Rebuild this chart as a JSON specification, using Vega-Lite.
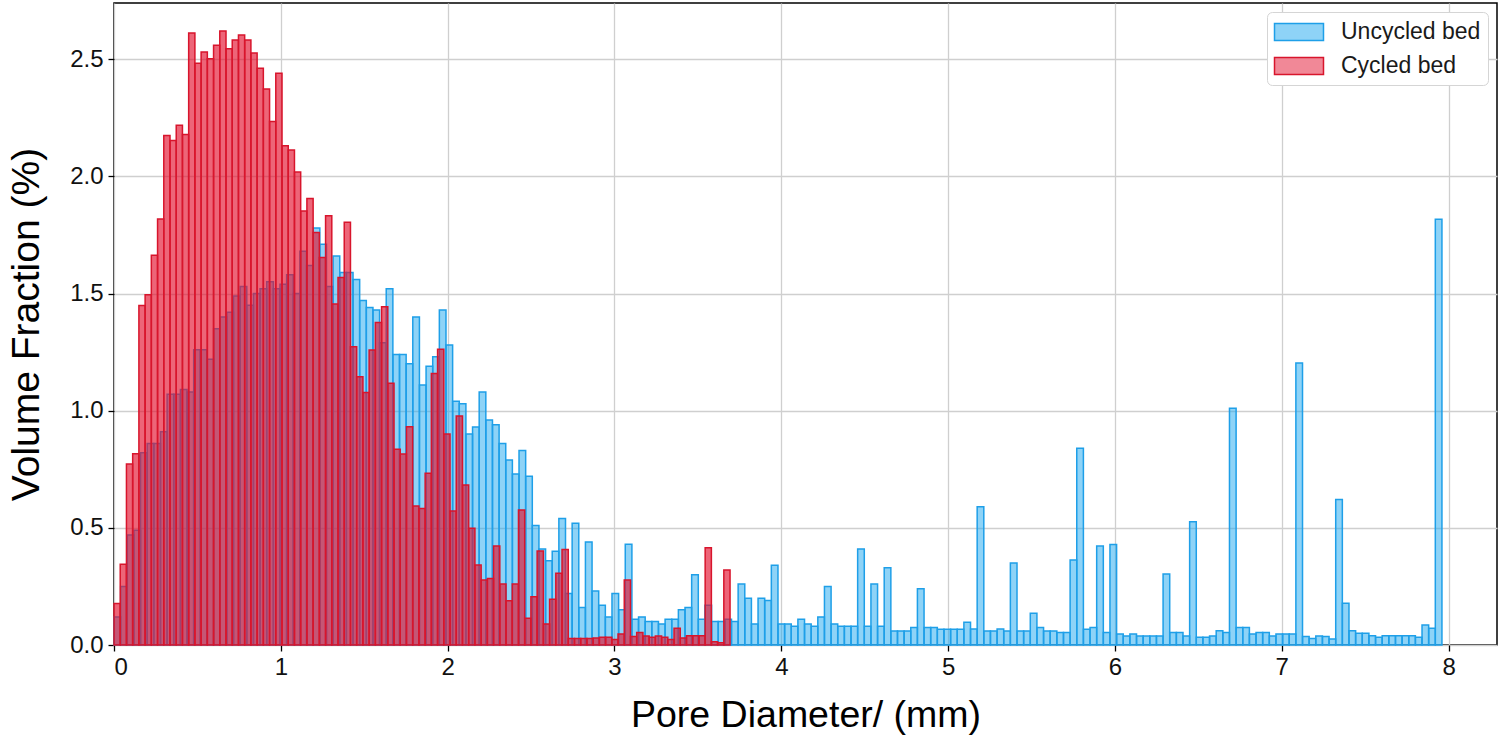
{
  "$schema": "https://vega.github.io/schema/vega-lite/v6.json",
  "width": 1383,
  "height": 642,
  "autosize": {"type": "none"},
  "padding": {"left": 114, "top": 3, "right": 4, "bottom": 91},
  "background": "white",
  "config": {
    "font": "Liberation Sans",
    "view": {"stroke": "#000000", "strokeWidth": 1.5},
    "axis": {
      "grid": true, "gridColor": "#cfcfcf", "gridWidth": 1.3, "domain": false,
      "tickColor": "#000000", "tickSize": 6, "tickWidth": 1.3,
      "labelFont": "Liberation Sans", "labelFontSize": 24, "labelColor": "#111111",
      "titleFont": "Liberation Sans", "titleFontWeight": "normal", "titleColor": "#000000"
    }
  },
  "datasets": {
    "unc": [
      {"s":"Uncycled bed","x0":0.0000,"x1":0.0398,"v":0.12},
      {"s":"Uncycled bed","x0":0.0398,"x1":0.0796,"v":0.25},
      {"s":"Uncycled bed","x0":0.0796,"x1":0.1194,"v":0.47},
      {"s":"Uncycled bed","x0":0.1194,"x1":0.1592,"v":0.49},
      {"s":"Uncycled bed","x0":0.1592,"x1":0.1990,"v":0.82},
      {"s":"Uncycled bed","x0":0.1990,"x1":0.2388,"v":0.86},
      {"s":"Uncycled bed","x0":0.2388,"x1":0.2786,"v":0.86},
      {"s":"Uncycled bed","x0":0.2786,"x1":0.3184,"v":0.91},
      {"s":"Uncycled bed","x0":0.3184,"x1":0.3582,"v":1.07},
      {"s":"Uncycled bed","x0":0.3582,"x1":0.3980,"v":1.07},
      {"s":"Uncycled bed","x0":0.3980,"x1":0.4378,"v":1.09},
      {"s":"Uncycled bed","x0":0.4378,"x1":0.4776,"v":1.08},
      {"s":"Uncycled bed","x0":0.4776,"x1":0.5174,"v":1.26},
      {"s":"Uncycled bed","x0":0.5174,"x1":0.5572,"v":1.26},
      {"s":"Uncycled bed","x0":0.5572,"x1":0.5970,"v":1.22},
      {"s":"Uncycled bed","x0":0.5970,"x1":0.6368,"v":1.35},
      {"s":"Uncycled bed","x0":0.6368,"x1":0.6766,"v":1.40},
      {"s":"Uncycled bed","x0":0.6766,"x1":0.7164,"v":1.42},
      {"s":"Uncycled bed","x0":0.7164,"x1":0.7562,"v":1.49},
      {"s":"Uncycled bed","x0":0.7562,"x1":0.7960,"v":1.53},
      {"s":"Uncycled bed","x0":0.7960,"x1":0.8358,"v":1.45},
      {"s":"Uncycled bed","x0":0.8358,"x1":0.8756,"v":1.50},
      {"s":"Uncycled bed","x0":0.8756,"x1":0.9154,"v":1.52},
      {"s":"Uncycled bed","x0":0.9154,"x1":0.9552,"v":1.55},
      {"s":"Uncycled bed","x0":0.9552,"x1":0.9950,"v":1.52},
      {"s":"Uncycled bed","x0":0.9950,"x1":1.0348,"v":1.54},
      {"s":"Uncycled bed","x0":1.0348,"x1":1.0746,"v":1.58},
      {"s":"Uncycled bed","x0":1.0746,"x1":1.1144,"v":1.50},
      {"s":"Uncycled bed","x0":1.1144,"x1":1.1542,"v":1.68},
      {"s":"Uncycled bed","x0":1.1542,"x1":1.1940,"v":1.62},
      {"s":"Uncycled bed","x0":1.1940,"x1":1.2338,"v":1.78},
      {"s":"Uncycled bed","x0":1.2338,"x1":1.2736,"v":1.71},
      {"s":"Uncycled bed","x0":1.2736,"x1":1.3134,"v":1.53},
      {"s":"Uncycled bed","x0":1.3134,"x1":1.3532,"v":1.66},
      {"s":"Uncycled bed","x0":1.3532,"x1":1.3930,"v":1.59},
      {"s":"Uncycled bed","x0":1.3930,"x1":1.4328,"v":1.59},
      {"s":"Uncycled bed","x0":1.4328,"x1":1.4726,"v":1.56},
      {"s":"Uncycled bed","x0":1.4726,"x1":1.5124,"v":1.47},
      {"s":"Uncycled bed","x0":1.5124,"x1":1.5522,"v":1.44},
      {"s":"Uncycled bed","x0":1.5522,"x1":1.5920,"v":1.43},
      {"s":"Uncycled bed","x0":1.5920,"x1":1.6318,"v":1.29},
      {"s":"Uncycled bed","x0":1.6318,"x1":1.6716,"v":1.52},
      {"s":"Uncycled bed","x0":1.6716,"x1":1.7114,"v":1.24},
      {"s":"Uncycled bed","x0":1.7114,"x1":1.7512,"v":1.24},
      {"s":"Uncycled bed","x0":1.7512,"x1":1.7910,"v":1.20},
      {"s":"Uncycled bed","x0":1.7910,"x1":1.8308,"v":1.40},
      {"s":"Uncycled bed","x0":1.8308,"x1":1.8706,"v":1.11},
      {"s":"Uncycled bed","x0":1.8706,"x1":1.9104,"v":1.19},
      {"s":"Uncycled bed","x0":1.9104,"x1":1.9502,"v":1.23},
      {"s":"Uncycled bed","x0":1.9502,"x1":1.9900,"v":1.43},
      {"s":"Uncycled bed","x0":1.9900,"x1":2.0298,"v":1.28},
      {"s":"Uncycled bed","x0":2.0298,"x1":2.0696,"v":1.04},
      {"s":"Uncycled bed","x0":2.0696,"x1":2.1094,"v":1.03},
      {"s":"Uncycled bed","x0":2.1094,"x1":2.1492,"v":0.90},
      {"s":"Uncycled bed","x0":2.1492,"x1":2.1890,"v":0.93},
      {"s":"Uncycled bed","x0":2.1890,"x1":2.2288,"v":1.08},
      {"s":"Uncycled bed","x0":2.2288,"x1":2.2686,"v":0.96},
      {"s":"Uncycled bed","x0":2.2686,"x1":2.3084,"v":0.94},
      {"s":"Uncycled bed","x0":2.3084,"x1":2.3482,"v":0.86},
      {"s":"Uncycled bed","x0":2.3482,"x1":2.3880,"v":0.79},
      {"s":"Uncycled bed","x0":2.3880,"x1":2.4278,"v":0.73},
      {"s":"Uncycled bed","x0":2.4278,"x1":2.4676,"v":0.83},
      {"s":"Uncycled bed","x0":2.4676,"x1":2.5074,"v":0.72},
      {"s":"Uncycled bed","x0":2.5074,"x1":2.5472,"v":0.51},
      {"s":"Uncycled bed","x0":2.5472,"x1":2.5870,"v":0.41},
      {"s":"Uncycled bed","x0":2.5870,"x1":2.6268,"v":0.36},
      {"s":"Uncycled bed","x0":2.6268,"x1":2.6666,"v":0.40},
      {"s":"Uncycled bed","x0":2.6666,"x1":2.7064,"v":0.54},
      {"s":"Uncycled bed","x0":2.7064,"x1":2.7462,"v":0.22},
      {"s":"Uncycled bed","x0":2.7462,"x1":2.7860,"v":0.52},
      {"s":"Uncycled bed","x0":2.7860,"x1":2.8258,"v":0.16},
      {"s":"Uncycled bed","x0":2.8258,"x1":2.8656,"v":0.44},
      {"s":"Uncycled bed","x0":2.8656,"x1":2.9054,"v":0.23},
      {"s":"Uncycled bed","x0":2.9054,"x1":2.9452,"v":0.17},
      {"s":"Uncycled bed","x0":2.9452,"x1":2.9850,"v":0.12},
      {"s":"Uncycled bed","x0":2.9850,"x1":3.0248,"v":0.22},
      {"s":"Uncycled bed","x0":3.0248,"x1":3.0646,"v":0.15},
      {"s":"Uncycled bed","x0":3.0646,"x1":3.1044,"v":0.43},
      {"s":"Uncycled bed","x0":3.1044,"x1":3.1442,"v":0.11},
      {"s":"Uncycled bed","x0":3.1442,"x1":3.1840,"v":0.12},
      {"s":"Uncycled bed","x0":3.1840,"x1":3.2238,"v":0.10},
      {"s":"Uncycled bed","x0":3.2238,"x1":3.2636,"v":0.10},
      {"s":"Uncycled bed","x0":3.2636,"x1":3.3034,"v":0.09},
      {"s":"Uncycled bed","x0":3.3034,"x1":3.3432,"v":0.11},
      {"s":"Uncycled bed","x0":3.3432,"x1":3.3830,"v":0.11},
      {"s":"Uncycled bed","x0":3.3830,"x1":3.4228,"v":0.15},
      {"s":"Uncycled bed","x0":3.4228,"x1":3.4626,"v":0.16},
      {"s":"Uncycled bed","x0":3.4626,"x1":3.5024,"v":0.30},
      {"s":"Uncycled bed","x0":3.5024,"x1":3.5422,"v":0.11},
      {"s":"Uncycled bed","x0":3.5422,"x1":3.5820,"v":0.17},
      {"s":"Uncycled bed","x0":3.5820,"x1":3.6218,"v":0.10},
      {"s":"Uncycled bed","x0":3.6218,"x1":3.6616,"v":0.10},
      {"s":"Uncycled bed","x0":3.6616,"x1":3.7014,"v":0.11},
      {"s":"Uncycled bed","x0":3.7014,"x1":3.7412,"v":0.10},
      {"s":"Uncycled bed","x0":3.7412,"x1":3.7810,"v":0.26},
      {"s":"Uncycled bed","x0":3.7810,"x1":3.8208,"v":0.20},
      {"s":"Uncycled bed","x0":3.8208,"x1":3.8606,"v":0.09},
      {"s":"Uncycled bed","x0":3.8606,"x1":3.9004,"v":0.20},
      {"s":"Uncycled bed","x0":3.9004,"x1":3.9402,"v":0.19},
      {"s":"Uncycled bed","x0":3.9402,"x1":3.9800,"v":0.34},
      {"s":"Uncycled bed","x0":3.9800,"x1":4.0198,"v":0.09},
      {"s":"Uncycled bed","x0":4.0198,"x1":4.0596,"v":0.09},
      {"s":"Uncycled bed","x0":4.0596,"x1":4.0994,"v":0.08},
      {"s":"Uncycled bed","x0":4.0994,"x1":4.1392,"v":0.11},
      {"s":"Uncycled bed","x0":4.1392,"x1":4.1790,"v":0.09},
      {"s":"Uncycled bed","x0":4.1790,"x1":4.2188,"v":0.08},
      {"s":"Uncycled bed","x0":4.2188,"x1":4.2586,"v":0.12},
      {"s":"Uncycled bed","x0":4.2586,"x1":4.2984,"v":0.25},
      {"s":"Uncycled bed","x0":4.2984,"x1":4.3382,"v":0.09},
      {"s":"Uncycled bed","x0":4.3382,"x1":4.3780,"v":0.08},
      {"s":"Uncycled bed","x0":4.3780,"x1":4.4178,"v":0.08},
      {"s":"Uncycled bed","x0":4.4178,"x1":4.4576,"v":0.08},
      {"s":"Uncycled bed","x0":4.4576,"x1":4.4974,"v":0.41},
      {"s":"Uncycled bed","x0":4.4974,"x1":4.5372,"v":0.08},
      {"s":"Uncycled bed","x0":4.5372,"x1":4.5770,"v":0.26},
      {"s":"Uncycled bed","x0":4.5770,"x1":4.6168,"v":0.08},
      {"s":"Uncycled bed","x0":4.6168,"x1":4.6566,"v":0.33},
      {"s":"Uncycled bed","x0":4.6566,"x1":4.6964,"v":0.06},
      {"s":"Uncycled bed","x0":4.6964,"x1":4.7362,"v":0.06},
      {"s":"Uncycled bed","x0":4.7362,"x1":4.7760,"v":0.06},
      {"s":"Uncycled bed","x0":4.7760,"x1":4.8158,"v":0.075},
      {"s":"Uncycled bed","x0":4.8158,"x1":4.8556,"v":0.24},
      {"s":"Uncycled bed","x0":4.8556,"x1":4.8954,"v":0.075},
      {"s":"Uncycled bed","x0":4.8954,"x1":4.9352,"v":0.075},
      {"s":"Uncycled bed","x0":4.9352,"x1":4.9750,"v":0.067},
      {"s":"Uncycled bed","x0":4.9750,"x1":5.0148,"v":0.067},
      {"s":"Uncycled bed","x0":5.0148,"x1":5.0546,"v":0.067},
      {"s":"Uncycled bed","x0":5.0546,"x1":5.0944,"v":0.067},
      {"s":"Uncycled bed","x0":5.0944,"x1":5.1342,"v":0.097},
      {"s":"Uncycled bed","x0":5.1342,"x1":5.1740,"v":0.068},
      {"s":"Uncycled bed","x0":5.1740,"x1":5.2138,"v":0.59},
      {"s":"Uncycled bed","x0":5.2138,"x1":5.2536,"v":0.06},
      {"s":"Uncycled bed","x0":5.2536,"x1":5.2934,"v":0.06},
      {"s":"Uncycled bed","x0":5.2934,"x1":5.3332,"v":0.068},
      {"s":"Uncycled bed","x0":5.3332,"x1":5.3730,"v":0.06},
      {"s":"Uncycled bed","x0":5.3730,"x1":5.4128,"v":0.35},
      {"s":"Uncycled bed","x0":5.4128,"x1":5.4526,"v":0.06},
      {"s":"Uncycled bed","x0":5.4526,"x1":5.4924,"v":0.06},
      {"s":"Uncycled bed","x0":5.4924,"x1":5.5322,"v":0.135},
      {"s":"Uncycled bed","x0":5.5322,"x1":5.5720,"v":0.075},
      {"s":"Uncycled bed","x0":5.5720,"x1":5.6118,"v":0.06},
      {"s":"Uncycled bed","x0":5.6118,"x1":5.6516,"v":0.06},
      {"s":"Uncycled bed","x0":5.6516,"x1":5.6914,"v":0.053},
      {"s":"Uncycled bed","x0":5.6914,"x1":5.7312,"v":0.053},
      {"s":"Uncycled bed","x0":5.7312,"x1":5.7710,"v":0.363},
      {"s":"Uncycled bed","x0":5.7710,"x1":5.8108,"v":0.84},
      {"s":"Uncycled bed","x0":5.8108,"x1":5.8506,"v":0.067},
      {"s":"Uncycled bed","x0":5.8506,"x1":5.8904,"v":0.075},
      {"s":"Uncycled bed","x0":5.8904,"x1":5.9302,"v":0.422},
      {"s":"Uncycled bed","x0":5.9302,"x1":5.9700,"v":0.053},
      {"s":"Uncycled bed","x0":5.9700,"x1":6.0098,"v":0.429},
      {"s":"Uncycled bed","x0":6.0098,"x1":6.0496,"v":0.047},
      {"s":"Uncycled bed","x0":6.0496,"x1":6.0894,"v":0.038},
      {"s":"Uncycled bed","x0":6.0894,"x1":6.1292,"v":0.047},
      {"s":"Uncycled bed","x0":6.1292,"x1":6.1690,"v":0.038},
      {"s":"Uncycled bed","x0":6.1690,"x1":6.2088,"v":0.038},
      {"s":"Uncycled bed","x0":6.2088,"x1":6.2486,"v":0.038},
      {"s":"Uncycled bed","x0":6.2486,"x1":6.2884,"v":0.038},
      {"s":"Uncycled bed","x0":6.2884,"x1":6.3282,"v":0.303},
      {"s":"Uncycled bed","x0":6.3282,"x1":6.3680,"v":0.053},
      {"s":"Uncycled bed","x0":6.3680,"x1":6.4078,"v":0.053},
      {"s":"Uncycled bed","x0":6.4078,"x1":6.4476,"v":0.038},
      {"s":"Uncycled bed","x0":6.4476,"x1":6.4874,"v":0.526},
      {"s":"Uncycled bed","x0":6.4874,"x1":6.5272,"v":0.033},
      {"s":"Uncycled bed","x0":6.5272,"x1":6.5670,"v":0.033},
      {"s":"Uncycled bed","x0":6.5670,"x1":6.6068,"v":0.038},
      {"s":"Uncycled bed","x0":6.6068,"x1":6.6466,"v":0.061},
      {"s":"Uncycled bed","x0":6.6466,"x1":6.6864,"v":0.053},
      {"s":"Uncycled bed","x0":6.6864,"x1":6.7262,"v":1.01},
      {"s":"Uncycled bed","x0":6.7262,"x1":6.7660,"v":0.075},
      {"s":"Uncycled bed","x0":6.7660,"x1":6.8058,"v":0.075},
      {"s":"Uncycled bed","x0":6.8058,"x1":6.8456,"v":0.047},
      {"s":"Uncycled bed","x0":6.8456,"x1":6.8854,"v":0.053},
      {"s":"Uncycled bed","x0":6.8854,"x1":6.9252,"v":0.053},
      {"s":"Uncycled bed","x0":6.9252,"x1":6.9650,"v":0.038},
      {"s":"Uncycled bed","x0":6.9650,"x1":7.0048,"v":0.047},
      {"s":"Uncycled bed","x0":7.0048,"x1":7.0446,"v":0.047},
      {"s":"Uncycled bed","x0":7.0446,"x1":7.0844,"v":0.047},
      {"s":"Uncycled bed","x0":7.0844,"x1":7.1242,"v":1.204},
      {"s":"Uncycled bed","x0":7.1242,"x1":7.1640,"v":0.036},
      {"s":"Uncycled bed","x0":7.1640,"x1":7.2038,"v":0.028},
      {"s":"Uncycled bed","x0":7.2038,"x1":7.2436,"v":0.038},
      {"s":"Uncycled bed","x0":7.2436,"x1":7.2834,"v":0.036},
      {"s":"Uncycled bed","x0":7.2834,"x1":7.3232,"v":0.026},
      {"s":"Uncycled bed","x0":7.3232,"x1":7.3630,"v":0.621},
      {"s":"Uncycled bed","x0":7.3630,"x1":7.4028,"v":0.178},
      {"s":"Uncycled bed","x0":7.4028,"x1":7.4426,"v":0.061},
      {"s":"Uncycled bed","x0":7.4426,"x1":7.4824,"v":0.05},
      {"s":"Uncycled bed","x0":7.4824,"x1":7.5222,"v":0.05},
      {"s":"Uncycled bed","x0":7.5222,"x1":7.5620,"v":0.04},
      {"s":"Uncycled bed","x0":7.5620,"x1":7.6018,"v":0.033},
      {"s":"Uncycled bed","x0":7.6018,"x1":7.6416,"v":0.04},
      {"s":"Uncycled bed","x0":7.6416,"x1":7.6814,"v":0.04},
      {"s":"Uncycled bed","x0":7.6814,"x1":7.7212,"v":0.04},
      {"s":"Uncycled bed","x0":7.7212,"x1":7.7610,"v":0.04},
      {"s":"Uncycled bed","x0":7.7610,"x1":7.8008,"v":0.04},
      {"s":"Uncycled bed","x0":7.8008,"x1":7.8406,"v":0.033},
      {"s":"Uncycled bed","x0":7.8406,"x1":7.8804,"v":0.085},
      {"s":"Uncycled bed","x0":7.8804,"x1":7.9202,"v":0.071},
      {"s":"Uncycled bed","x0":7.9202,"x1":7.9600,"v":1.817}
    ],
    "cyc": [
      {"s":"Cycled bed","x0":0.0000,"x1":0.0373,"v":0.177},
      {"s":"Cycled bed","x0":0.0373,"x1":0.0746,"v":0.345},
      {"s":"Cycled bed","x0":0.0746,"x1":0.1119,"v":0.773},
      {"s":"Cycled bed","x0":0.1119,"x1":0.1492,"v":0.816},
      {"s":"Cycled bed","x0":0.1492,"x1":0.1865,"v":1.449},
      {"s":"Cycled bed","x0":0.1865,"x1":0.2238,"v":1.495},
      {"s":"Cycled bed","x0":0.2238,"x1":0.2611,"v":1.663},
      {"s":"Cycled bed","x0":0.2611,"x1":0.2984,"v":1.818},
      {"s":"Cycled bed","x0":0.2984,"x1":0.3357,"v":2.174},
      {"s":"Cycled bed","x0":0.3357,"x1":0.3730,"v":2.153},
      {"s":"Cycled bed","x0":0.3730,"x1":0.4103,"v":2.218},
      {"s":"Cycled bed","x0":0.4103,"x1":0.4476,"v":2.179},
      {"s":"Cycled bed","x0":0.4476,"x1":0.4849,"v":2.612},
      {"s":"Cycled bed","x0":0.4849,"x1":0.5222,"v":2.483},
      {"s":"Cycled bed","x0":0.5222,"x1":0.5595,"v":2.531},
      {"s":"Cycled bed","x0":0.5595,"x1":0.5968,"v":2.502},
      {"s":"Cycled bed","x0":0.5968,"x1":0.6341,"v":2.560},
      {"s":"Cycled bed","x0":0.6341,"x1":0.6714,"v":2.620},
      {"s":"Cycled bed","x0":0.6714,"x1":0.7087,"v":2.545},
      {"s":"Cycled bed","x0":0.7087,"x1":0.7460,"v":2.582},
      {"s":"Cycled bed","x0":0.7460,"x1":0.7833,"v":2.603},
      {"s":"Cycled bed","x0":0.7833,"x1":0.8206,"v":2.582},
      {"s":"Cycled bed","x0":0.8206,"x1":0.8579,"v":2.527},
      {"s":"Cycled bed","x0":0.8579,"x1":0.8952,"v":2.462},
      {"s":"Cycled bed","x0":0.8952,"x1":0.9325,"v":2.373},
      {"s":"Cycled bed","x0":0.9325,"x1":0.9698,"v":2.234},
      {"s":"Cycled bed","x0":0.9698,"x1":1.0071,"v":2.440},
      {"s":"Cycled bed","x0":1.0071,"x1":1.0444,"v":2.131},
      {"s":"Cycled bed","x0":1.0444,"x1":1.0817,"v":2.113},
      {"s":"Cycled bed","x0":1.0817,"x1":1.1190,"v":2.019},
      {"s":"Cycled bed","x0":1.1190,"x1":1.1563,"v":1.852},
      {"s":"Cycled bed","x0":1.1563,"x1":1.1936,"v":1.906},
      {"s":"Cycled bed","x0":1.1936,"x1":1.2309,"v":1.760},
      {"s":"Cycled bed","x0":1.2309,"x1":1.2682,"v":1.654},
      {"s":"Cycled bed","x0":1.2682,"x1":1.3055,"v":1.832},
      {"s":"Cycled bed","x0":1.3055,"x1":1.3428,"v":1.455},
      {"s":"Cycled bed","x0":1.3428,"x1":1.3801,"v":1.568},
      {"s":"Cycled bed","x0":1.3801,"x1":1.4174,"v":1.804},
      {"s":"Cycled bed","x0":1.4174,"x1":1.4547,"v":1.273},
      {"s":"Cycled bed","x0":1.4547,"x1":1.4920,"v":1.145},
      {"s":"Cycled bed","x0":1.4920,"x1":1.5293,"v":1.078},
      {"s":"Cycled bed","x0":1.5293,"x1":1.5666,"v":1.259},
      {"s":"Cycled bed","x0":1.5666,"x1":1.6039,"v":1.376},
      {"s":"Cycled bed","x0":1.6039,"x1":1.6412,"v":1.444},
      {"s":"Cycled bed","x0":1.6412,"x1":1.6785,"v":1.117},
      {"s":"Cycled bed","x0":1.6785,"x1":1.7158,"v":0.835},
      {"s":"Cycled bed","x0":1.7158,"x1":1.7531,"v":0.815},
      {"s":"Cycled bed","x0":1.7531,"x1":1.7904,"v":0.932},
      {"s":"Cycled bed","x0":1.7904,"x1":1.8277,"v":0.593},
      {"s":"Cycled bed","x0":1.8277,"x1":1.8650,"v":0.583},
      {"s":"Cycled bed","x0":1.8650,"x1":1.9023,"v":0.733},
      {"s":"Cycled bed","x0":1.9023,"x1":1.9396,"v":1.159},
      {"s":"Cycled bed","x0":1.9396,"x1":1.9769,"v":1.262},
      {"s":"Cycled bed","x0":1.9769,"x1":2.0142,"v":0.900},
      {"s":"Cycled bed","x0":2.0142,"x1":2.0515,"v":0.572},
      {"s":"Cycled bed","x0":2.0515,"x1":2.0888,"v":0.977},
      {"s":"Cycled bed","x0":2.0888,"x1":2.1261,"v":0.683},
      {"s":"Cycled bed","x0":2.1261,"x1":2.1634,"v":0.498},
      {"s":"Cycled bed","x0":2.1634,"x1":2.2007,"v":0.341},
      {"s":"Cycled bed","x0":2.2007,"x1":2.2380,"v":0.277},
      {"s":"Cycled bed","x0":2.2380,"x1":2.2753,"v":0.284},
      {"s":"Cycled bed","x0":2.2753,"x1":2.3126,"v":0.422},
      {"s":"Cycled bed","x0":2.3126,"x1":2.3499,"v":0.260},
      {"s":"Cycled bed","x0":2.3499,"x1":2.3872,"v":0.189},
      {"s":"Cycled bed","x0":2.3872,"x1":2.4245,"v":0.260},
      {"s":"Cycled bed","x0":2.4245,"x1":2.4618,"v":0.576},
      {"s":"Cycled bed","x0":2.4618,"x1":2.4991,"v":0.114},
      {"s":"Cycled bed","x0":2.4991,"x1":2.5364,"v":0.206},
      {"s":"Cycled bed","x0":2.5364,"x1":2.5737,"v":0.401},
      {"s":"Cycled bed","x0":2.5737,"x1":2.6110,"v":0.090},
      {"s":"Cycled bed","x0":2.6110,"x1":2.6483,"v":0.195},
      {"s":"Cycled bed","x0":2.6483,"x1":2.6856,"v":0.306},
      {"s":"Cycled bed","x0":2.6856,"x1":2.7229,"v":0.408},
      {"s":"Cycled bed","x0":2.7229,"x1":2.7602,"v":0.028},
      {"s":"Cycled bed","x0":2.7602,"x1":2.7975,"v":0.028},
      {"s":"Cycled bed","x0":2.7975,"x1":2.8348,"v":0.028},
      {"s":"Cycled bed","x0":2.8348,"x1":2.8721,"v":0.028},
      {"s":"Cycled bed","x0":2.8721,"x1":2.9094,"v":0.030},
      {"s":"Cycled bed","x0":2.9094,"x1":2.9467,"v":0.033},
      {"s":"Cycled bed","x0":2.9467,"x1":2.9840,"v":0.033},
      {"s":"Cycled bed","x0":2.9840,"x1":3.0213,"v":0.024},
      {"s":"Cycled bed","x0":3.0213,"x1":3.0586,"v":0.047},
      {"s":"Cycled bed","x0":3.0586,"x1":3.0959,"v":0.277},
      {"s":"Cycled bed","x0":3.0959,"x1":3.1332,"v":0.036},
      {"s":"Cycled bed","x0":3.1332,"x1":3.1705,"v":0.053},
      {"s":"Cycled bed","x0":3.1705,"x1":3.2078,"v":0.038},
      {"s":"Cycled bed","x0":3.2078,"x1":3.2451,"v":0.033},
      {"s":"Cycled bed","x0":3.2451,"x1":3.2824,"v":0.038},
      {"s":"Cycled bed","x0":3.2824,"x1":3.3197,"v":0.033},
      {"s":"Cycled bed","x0":3.3197,"x1":3.3570,"v":0.024},
      {"s":"Cycled bed","x0":3.3570,"x1":3.3943,"v":0.071},
      {"s":"Cycled bed","x0":3.3943,"x1":3.4316,"v":0.030},
      {"s":"Cycled bed","x0":3.4316,"x1":3.4689,"v":0.040},
      {"s":"Cycled bed","x0":3.4689,"x1":3.5062,"v":0.040},
      {"s":"Cycled bed","x0":3.5062,"x1":3.5435,"v":0.040},
      {"s":"Cycled bed","x0":3.5435,"x1":3.5808,"v":0.415},
      {"s":"Cycled bed","x0":3.5808,"x1":3.6181,"v":0.014},
      {"s":"Cycled bed","x0":3.6181,"x1":3.6554,"v":0.010},
      {"s":"Cycled bed","x0":3.6554,"x1":3.6927,"v":0.320}
    ]
  },
  "encoding": {
    "x": {
      "field": "x0", "type": "quantitative",
      "scale": {"domain": [0, 8.29], "nice": false, "zero": false},
      "axis": {"values": [0, 1, 2, 3, 4, 5, 6, 7, 8], "format": "d", "title": "Pore Diameter/ (mm)", "labelPadding": 4, "titlePadding": 17, "titleFontSize": 37.5}
    },
    "x2": {"field": "x1"},
    "y": {
      "field": "v", "type": "quantitative",
      "scale": {"domain": [0, 2.74], "nice": false},
      "axis": {"values": [0, 0.5, 1, 1.5, 2, 2.5], "format": ".1f", "title": "Volume Fraction (%)", "labelPadding": 5, "titlePadding": 23, "titleFontSize": 39}
    },
    "y2": {"datum": 0},
    "color": {
      "field": "s", "type": "nominal",
      "scale": {"domain": ["Uncycled bed", "Cycled bed"], "range": ["#1ea7f0", "#e3122f"]},
      "legend": {
        "title": null, "orient": "top-right", "offset": 9,
        "fillColor": "#ffffff", "strokeColor": "#d5d5d5", "cornerRadius": 5, "padding": 7,
        "labelFont": "Liberation Sans", "labelFontSize": 23, "labelColor": "#1a1a1a", "labelOffset": 29,
        "symbolType": "M-2,-0.7H2V0.7H-2Z", "symbolSize": 600, "symbolOffset": 12, "rowPadding": 9,
        "encode": {"symbols": {"update": {"fillOpacity": {"value": 0.5}, "stroke": {"scale": "stroke", "field": "value"}, "strokeWidth": {"value": 1.5}}}}
      }
    },
    "stroke": {
      "field": "s", "type": "nominal",
      "scale": {"domain": ["Uncycled bed", "Cycled bed"], "range": ["#1e9fe8", "#d8152c"]},
      "legend": null
    }
  },
  "layer": [
    {"data": {"name": "unc"}, "mark": {"type": "bar", "fillOpacity": 0.5, "strokeWidth": 1.5}},
    {"data": {"name": "cyc"}, "mark": {"type": "bar", "fillOpacity": 0.65, "strokeWidth": 1.5}}
  ]
}
